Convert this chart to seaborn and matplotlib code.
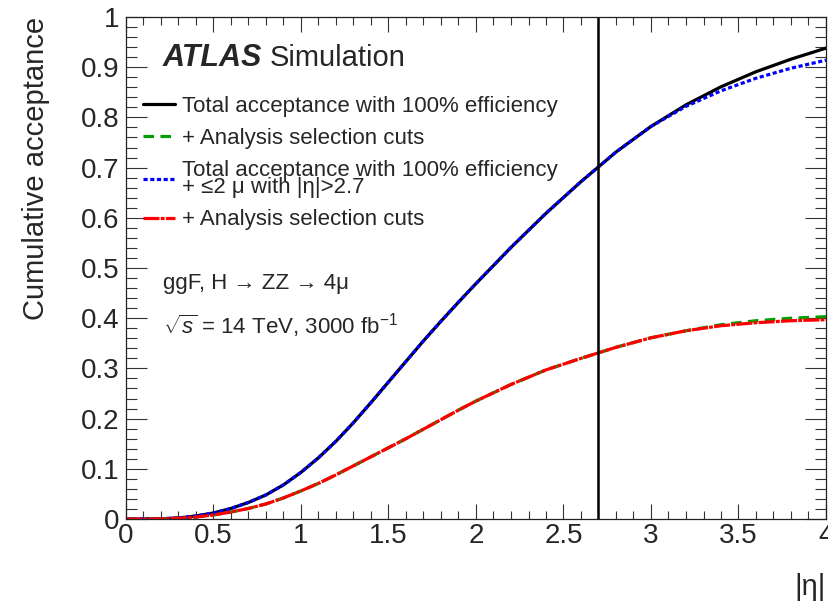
import numpy as np
import pandas as pd
import matplotlib
matplotlib.use("Agg")
import matplotlib.pyplot as plt
import seaborn as sns
from matplotlib.ticker import MultipleLocator, FuncFormatter

# ---- data ----
eta = [0.0, 0.1, 0.2, 0.3, 0.4, 0.5, 0.6, 0.7, 0.8, 0.9, 1.0, 1.1, 1.2, 1.3, 1.4,
       1.5, 1.6, 1.7, 1.8, 1.9, 2.0, 2.2, 2.4, 2.6, 2.8, 3.0, 3.2, 3.4, 3.6, 3.8, 4.0]

total_acc = [0.0, 0.0, 0.0005, 0.002, 0.006, 0.012, 0.021, 0.033, 0.048, 0.068, 0.093,
             0.122, 0.155, 0.192, 0.232, 0.273, 0.314, 0.355, 0.394, 0.432, 0.469,
             0.541, 0.609, 0.672, 0.731, 0.782, 0.825, 0.861, 0.891, 0.916, 0.938]

total_cuts = [0.0, 0.0, 0.0003, 0.0015, 0.004, 0.008, 0.014, 0.021, 0.030, 0.042, 0.056,
              0.071, 0.088, 0.106, 0.124, 0.142, 0.160, 0.179, 0.198, 0.217, 0.235,
              0.268, 0.297, 0.320, 0.342, 0.361, 0.375, 0.387, 0.395, 0.400, 0.403]

mu_acc = [0.0, 0.0, 0.0005, 0.002, 0.006, 0.012, 0.021, 0.033, 0.048, 0.068, 0.093,
          0.122, 0.155, 0.192, 0.232, 0.273, 0.314, 0.355, 0.394, 0.432, 0.469,
          0.541, 0.609, 0.672, 0.731, 0.782, 0.822, 0.853, 0.878, 0.898, 0.914]

mu_cuts = [0.0, 0.0, 0.0003, 0.0015, 0.004, 0.008, 0.014, 0.021, 0.030, 0.042, 0.056,
           0.071, 0.088, 0.106, 0.124, 0.142, 0.160, 0.179, 0.198, 0.217, 0.235,
           0.268, 0.297, 0.320, 0.342, 0.361, 0.375, 0.385, 0.391, 0.395, 0.397]

labels = ["Total acceptance with 100% efficiency",
          "+ Analysis selection cuts",
          "Total acceptance with 100% efficiency\n+ \u22642 \u03bc with |\u03b7|>2.7",
          "+ Analysis selection cuts"]

eta_cut = 2.7

# ---- style ----
sns.set_style("ticks")
plt.rcParams["font.family"] = ["Liberation Sans", "DejaVu Sans"]
plt.rcParams["mathtext.fontset"] = "custom"
plt.rcParams["mathtext.rm"] = "Liberation Sans"
plt.rcParams["mathtext.it"] = "Liberation Sans:italic"

fig = plt.figure(figsize=(8.29, 6.03), dpi=100)
ax = fig.add_axes([126 / 829, 84 / 603, 700 / 829, 502 / 603])

styles = [
    dict(color="#000000", linestyle="-"),
    dict(color="#00a000", linestyle=(0, (3.3, 2.0))),
    dict(color="#0000ff", linestyle=(0, (1.3, 0.8))),
    dict(color="#ff0000", linestyle=(0, (5, 0.4, 1.2, 0.4))),
]
series = [total_acc, total_cuts, mu_acc, mu_cuts]

for vals, st, lab in zip(series, styles, labels):
    df = pd.DataFrame({"eta": eta, "acc": vals})
    sns.lineplot(data=df, x="eta", y="acc", ax=ax, linewidth=2.3, label=lab, **st)

ax.axvline(eta_cut, color="black", linewidth=1.8)

ax.set_xlim(0, 4)
ax.set_ylim(0, 1)

ax.xaxis.set_major_locator(MultipleLocator(0.5))
ax.xaxis.set_minor_locator(MultipleLocator(0.1))
ax.yaxis.set_major_locator(MultipleLocator(0.1))
ax.yaxis.set_minor_locator(MultipleLocator(0.02))
fmt = FuncFormatter(lambda v, p: f"{v:g}")
ax.xaxis.set_major_formatter(fmt)
ax.yaxis.set_major_formatter(fmt)

ax.tick_params(which="both", direction="in", top=True, right=True, width=0.8,
               color="#333333", labelsize=20)
ax.tick_params(axis="x", which="major", length=11, pad=3)
ax.tick_params(axis="x", which="minor", length=6)
ax.tick_params(axis="y", which="major", length=15, pad=5)
ax.tick_params(axis="y", which="minor", length=8)
for s in ax.spines.values():
    s.set_linewidth(0.9)
    s.set_color("#222222")

ax.set_ylabel("Cumulative acceptance", fontsize=21, loc="top")
ax.yaxis.set_label_coords(-0.108, 1.0)
ax.set_xlabel("|\u03b7|", fontsize=21, loc="right")
ax.xaxis.set_label_coords(1.0, -0.108)

leg = ax.legend(loc="upper left", bbox_to_anchor=(0.0243, 0.8426), frameon=False,
                fontsize=16, borderpad=0, borderaxespad=0, handlelength=1.45,
                handletextpad=0.3, labelspacing=0.5)
leg.get_texts()[2].set_linespacing(0.75)

ax.text(0.0529, 0.9024, "ATLAS", transform=ax.transAxes, fontsize=22,
        fontweight="bold", fontstyle="italic", va="baseline", ha="left")
ax.text(0.2057, 0.9024, "Simulation", transform=ax.transAxes, fontsize=21,
        va="baseline", ha="left")
ax.text(0.0529, 0.4582, "ggF, H \u2192 ZZ \u2192 4\u03bc", transform=ax.transAxes,
        fontsize=16, va="baseline", ha="left")
ax.text(0.0529, 0.3685, r"$\sqrt{s}$ = 14 TeV, 3000 fb$^{-1}$", transform=ax.transAxes,
        fontsize=16, va="baseline", ha="left")

fig.savefig("out.png", dpi=100)
